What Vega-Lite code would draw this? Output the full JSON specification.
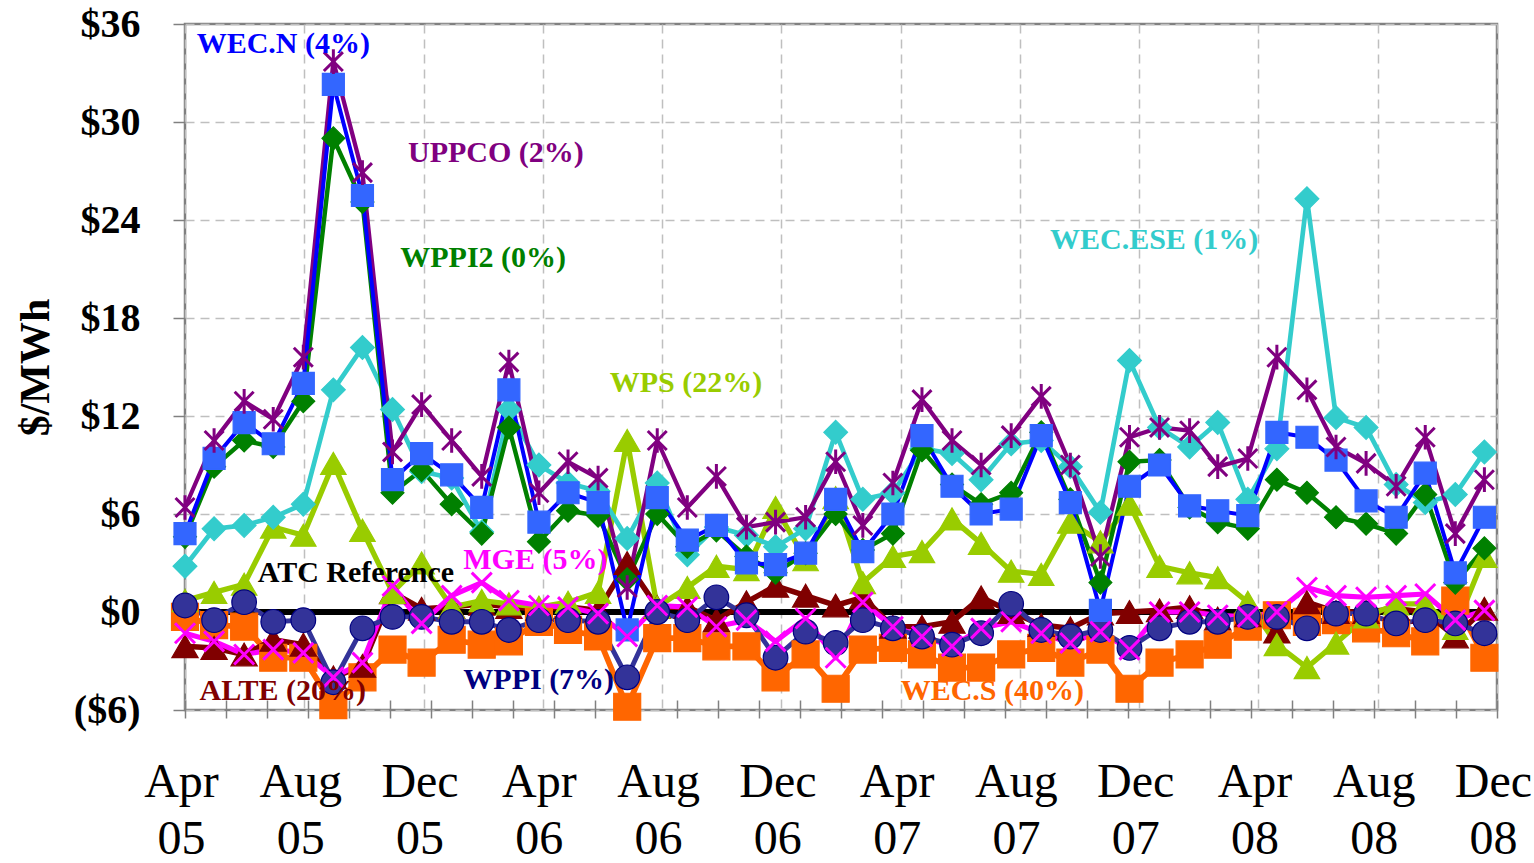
{
  "$schema": "https://vega.github.io/schema/vega-lite/v6.json",
  "width": 1312,
  "height": 686,
  "autosize": {"type": "none"},
  "padding": {"left": 185, "top": 24, "right": 37, "bottom": 153},
  "background": "white",
  "config": {
    "view": {"stroke": "#808080", "strokeWidth": 2.5},
    "font": "Liberation Serif"
  },
  "data": {
    "values": [
      {"month": "2005-04-01", "WECN": 4.8, "UPPCO": 6.4, "WPPI2": 4.6, "WECESE": 2.8, "WPS": 0.7, "MGE": -1.3, "ALTE": -2.1, "WPPI": 0.4, "WECS": -0.3, "ATC": 0},
      {"month": "2005-05-01", "WECN": 9.4, "UPPCO": 10.5, "WPPI2": 8.9, "WECESE": 5.1, "WPS": 1.2, "MGE": -1.8, "ALTE": -2.2, "WPPI": -0.5, "WECS": -0.8, "ATC": 0},
      {"month": "2005-06-01", "WECN": 11.6, "UPPCO": 12.9, "WPPI2": 10.5, "WECESE": 5.3, "WPS": 1.7, "MGE": -2.6, "ALTE": -2.6, "WPPI": 0.6, "WECS": -0.9, "ATC": 0},
      {"month": "2005-07-01", "WECN": 10.3, "UPPCO": 11.8, "WPPI2": 10.1, "WECESE": 5.8, "WPS": 5.2, "MGE": -2.3, "ALTE": -1.7, "WPPI": -0.6, "WECS": -2.8, "ATC": 0},
      {"month": "2005-08-01", "WECN": 14.0, "UPPCO": 15.6, "WPPI2": 12.9, "WECESE": 6.6, "WPS": 4.7, "MGE": -2.5, "ALTE": -2.0, "WPPI": -0.5, "WECS": -2.8, "ATC": 0},
      {"month": "2005-09-01", "WECN": 32.3, "UPPCO": 33.7, "WPPI2": 29.0, "WECESE": 13.6, "WPS": 9.1, "MGE": -4.0, "ALTE": -4.0, "WPPI": -4.3, "WECS": -5.7, "ATC": 0},
      {"month": "2005-10-01", "WECN": 25.5, "UPPCO": 26.9, "WPPI2": 25.1, "WECESE": 16.2, "WPS": 5.0, "MGE": -3.1, "ALTE": -3.3, "WPPI": -1.0, "WECS": -4.0, "ATC": 0},
      {"month": "2005-11-01", "WECN": 8.1, "UPPCO": 9.8, "WPPI2": 7.3, "WECESE": 12.4, "WPS": 1.2, "MGE": 1.6, "ALTE": 1.2, "WPPI": -0.3, "WECS": -2.3, "ATC": 0},
      {"month": "2005-12-01", "WECN": 9.7, "UPPCO": 12.7, "WPPI2": 8.7, "WECESE": 8.6, "WPS": 3.0, "MGE": -0.7, "ALTE": 0.2, "WPPI": -0.3, "WECS": -3.1, "ATC": 0},
      {"month": "2006-01-01", "WECN": 8.4, "UPPCO": 10.5, "WPPI2": 6.6, "WECESE": 8.2, "WPS": 0.3, "MGE": 1.0, "ALTE": 0.3, "WPPI": -0.6, "WECS": -1.7, "ATC": 0},
      {"month": "2006-02-01", "WECN": 6.4, "UPPCO": 8.3, "WPPI2": 4.8, "WECESE": 4.9, "WPS": 0.7, "MGE": 1.8, "ALTE": 0.5, "WPPI": -0.6, "WECS": -2.0, "ATC": 0},
      {"month": "2006-03-01", "WECN": 13.6, "UPPCO": 15.3, "WPPI2": 11.3, "WECESE": 12.4, "WPS": 0.5, "MGE": 0.7, "ALTE": 0.3, "WPPI": -1.1, "WECS": -1.8, "ATC": 0},
      {"month": "2006-04-01", "WECN": 5.5, "UPPCO": 7.3, "WPPI2": 4.3, "WECESE": 9.0, "WPS": 0.3, "MGE": 0.4, "ALTE": 0.2, "WPPI": -0.5, "WECS": -0.6, "ATC": 0},
      {"month": "2006-05-01", "WECN": 7.3, "UPPCO": 9.2, "WPPI2": 6.2, "WECESE": 7.9, "WPS": 0.6, "MGE": 0.3, "ALTE": 0.3, "WPPI": -0.5, "WECS": -1.1, "ATC": 0},
      {"month": "2006-06-01", "WECN": 6.7, "UPPCO": 8.2, "WPPI2": 5.9, "WECESE": 7.4, "WPS": 1.2, "MGE": -0.1, "ALTE": 0.1, "WPPI": -0.6, "WECS": -1.5, "ATC": 0},
      {"month": "2006-07-01", "WECN": -1.1, "UPPCO": 1.5, "WPPI2": 2.0, "WECESE": 4.5, "WPS": 10.5, "MGE": -1.5, "ALTE": 3.0, "WPPI": -4.0, "WECS": -5.8, "ATC": 0},
      {"month": "2006-08-01", "WECN": 7.0, "UPPCO": 10.5, "WPPI2": 6.0, "WECESE": 7.9, "WPS": 0.3, "MGE": 0.4, "ALTE": 0.3, "WPPI": 0.0, "WECS": -1.6, "ATC": 0},
      {"month": "2006-09-01", "WECN": 4.4, "UPPCO": 6.4, "WPPI2": 4.0, "WECESE": 3.5, "WPS": 1.5, "MGE": 0.3, "ALTE": 0.3, "WPPI": -0.5, "WECS": -1.6, "ATC": 0},
      {"month": "2006-10-01", "WECN": 5.3, "UPPCO": 8.3, "WPPI2": 5.0, "WECESE": 5.2, "WPS": 2.8, "MGE": -0.9, "ALTE": -0.5, "WPPI": 0.9, "WECS": -2.1, "ATC": 0},
      {"month": "2006-11-01", "WECN": 3.0, "UPPCO": 5.2, "WPPI2": 3.4, "WECESE": 4.7, "WPS": 2.6, "MGE": -0.5, "ALTE": 0.6, "WPPI": -0.2, "WECS": -2.1, "ATC": 0},
      {"month": "2006-12-01", "WECN": 2.9, "UPPCO": 5.5, "WPPI2": 2.4, "WECESE": 4.0, "WPS": 6.4, "MGE": -1.8, "ALTE": 1.6, "WPPI": -2.8, "WECS": -4.0, "ATC": 0},
      {"month": "2007-01-01", "WECN": 3.6, "UPPCO": 5.8, "WPPI2": 3.6, "WECESE": 5.1, "WPS": 3.2, "MGE": -0.4, "ALTE": 1.0, "WPPI": -1.2, "WECS": -2.6, "ATC": 0},
      {"month": "2007-02-01", "WECN": 6.9, "UPPCO": 9.2, "WPPI2": 6.0, "WECESE": 11.0, "WPS": 7.0, "MGE": -2.8, "ALTE": 0.4, "WPPI": -1.9, "WECS": -4.7, "ATC": 0},
      {"month": "2007-03-01", "WECN": 3.7, "UPPCO": 5.3, "WPPI2": 3.8, "WECESE": 6.9, "WPS": 1.8, "MGE": 0.6, "ALTE": 0.9, "WPPI": -0.5, "WECS": -2.3, "ATC": 0},
      {"month": "2007-04-01", "WECN": 6.0, "UPPCO": 7.9, "WPPI2": 4.8, "WECESE": 7.3, "WPS": 3.4, "MGE": -0.9, "ALTE": -0.9, "WPPI": -1.0, "WECS": -2.2, "ATC": 0},
      {"month": "2007-05-01", "WECN": 10.8, "UPPCO": 13.0, "WPPI2": 9.9, "WECESE": 10.0, "WPS": 3.7, "MGE": -1.5, "ALTE": -0.9, "WPPI": -1.5, "WECS": -2.6, "ATC": 0},
      {"month": "2007-06-01", "WECN": 7.7, "UPPCO": 10.5, "WPPI2": 7.8, "WECESE": 9.7, "WPS": 5.7, "MGE": -2.1, "ALTE": -0.6, "WPPI": -2.0, "WECS": -3.4, "ATC": 0},
      {"month": "2007-07-01", "WECN": 6.0, "UPPCO": 9.0, "WPPI2": 6.6, "WECESE": 8.1, "WPS": 4.2, "MGE": -1.0, "ALTE": 0.9, "WPPI": -1.3, "WECS": -3.4, "ATC": 0},
      {"month": "2007-08-01", "WECN": 6.3, "UPPCO": 10.8, "WPPI2": 7.3, "WECESE": 10.3, "WPS": 2.5, "MGE": -0.6, "ALTE": 0.0, "WPPI": 0.5, "WECS": -2.6, "ATC": 0},
      {"month": "2007-09-01", "WECN": 10.8, "UPPCO": 13.2, "WPPI2": 11.0, "WECESE": 10.5, "WPS": 2.3, "MGE": -1.3, "ALTE": -0.8, "WPPI": -1.1, "WECS": -2.2, "ATC": 0},
      {"month": "2007-10-01", "WECN": 6.7, "UPPCO": 9.0, "WPPI2": 6.9, "WECESE": 8.9, "WPS": 5.5, "MGE": -1.9, "ALTE": -1.0, "WPPI": -1.5, "WECS": -3.1, "ATC": 0},
      {"month": "2007-11-01", "WECN": 0.1, "UPPCO": 3.4, "WPPI2": 1.8, "WECESE": 6.1, "WPS": 4.3, "MGE": -1.2, "ALTE": -0.1, "WPPI": -1.1, "WECS": -2.3, "ATC": 0},
      {"month": "2007-12-01", "WECN": 7.7, "UPPCO": 10.7, "WPPI2": 9.2, "WECESE": 15.4, "WPS": 6.6, "MGE": -2.3, "ALTE": 0.0, "WPPI": -2.2, "WECS": -4.7, "ATC": 0},
      {"month": "2008-01-01", "WECN": 9.0, "UPPCO": 11.3, "WPPI2": 9.3, "WECESE": 11.3, "WPS": 2.8, "MGE": 0.0, "ALTE": 0.1, "WPPI": -1.0, "WECS": -3.1, "ATC": 0},
      {"month": "2008-02-01", "WECN": 6.5, "UPPCO": 11.1, "WPPI2": 6.4, "WECESE": 10.1, "WPS": 2.4, "MGE": 0.0, "ALTE": 0.3, "WPPI": -0.6, "WECS": -2.6, "ATC": 0},
      {"month": "2008-03-01", "WECN": 6.2, "UPPCO": 8.9, "WPPI2": 5.5, "WECESE": 11.6, "WPS": 2.1, "MGE": -0.2, "ALTE": -0.4, "WPPI": -0.6, "WECS": -2.0, "ATC": 0},
      {"month": "2008-04-01", "WECN": 5.9, "UPPCO": 9.4, "WPPI2": 5.1, "WECESE": 6.9, "WPS": 0.6, "MGE": -0.3, "ALTE": -0.2, "WPPI": -0.3, "WECS": -0.9, "ATC": 0},
      {"month": "2008-05-01", "WECN": 11.0, "UPPCO": 15.6, "WPPI2": 8.1, "WECESE": 10.0, "WPS": -2.0, "MGE": 0.0, "ALTE": -1.2, "WPPI": -0.3, "WECS": -0.2, "ATC": 0},
      {"month": "2008-06-01", "WECN": 10.7, "UPPCO": 13.6, "WPPI2": 7.3, "WECESE": 25.3, "WPS": -3.4, "MGE": 1.5, "ALTE": 0.6, "WPPI": -1.0, "WECS": -0.6, "ATC": 0},
      {"month": "2008-07-01", "WECN": 9.3, "UPPCO": 10.1, "WPPI2": 5.8, "WECESE": 11.9, "WPS": -1.9, "MGE": 1.0, "ALTE": 0.0, "WPPI": -0.1, "WECS": -0.5, "ATC": 0},
      {"month": "2008-08-01", "WECN": 6.8, "UPPCO": 9.1, "WPPI2": 5.4, "WECESE": 11.3, "WPS": -0.3, "MGE": 0.9, "ALTE": 0.0, "WPPI": -0.1, "WECS": -1.0, "ATC": 0},
      {"month": "2008-09-01", "WECN": 5.8, "UPPCO": 7.7, "WPPI2": 4.8, "WECESE": 7.8, "WPS": 0.5, "MGE": 1.0, "ALTE": 0.2, "WPPI": -0.7, "WECS": -1.3, "ATC": 0},
      {"month": "2008-10-01", "WECN": 8.5, "UPPCO": 10.7, "WPPI2": 7.2, "WECESE": 6.7, "WPS": 0.5, "MGE": 1.1, "ALTE": 0.0, "WPPI": -0.5, "WECS": -1.8, "ATC": 0},
      {"month": "2008-11-01", "WECN": 2.4, "UPPCO": 4.8, "WPPI2": 1.8, "WECESE": 7.2, "WPS": -1.0, "MGE": -0.5, "ALTE": -1.5, "WPPI": -0.7, "WECS": 0.7, "ATC": 0},
      {"month": "2008-12-01", "WECN": 5.8, "UPPCO": 8.1, "WPPI2": 3.9, "WECESE": 9.8, "WPS": 3.4, "MGE": 0.1, "ALTE": 0.2, "WPPI": -1.3, "WECS": -2.8, "ATC": 0}
    ]
  },
  "resolve": {
    "scale": {"fill": "independent", "shape": "independent", "size": "independent"},
    "axis": {"x": "independent"}
  },
  "layer": [
    {
      "transform": [{"fold": ["ATC", "WECS", "ALTE", "WPS", "MGE", "WPPI", "WECESE", "WPPI2", "UPPCO", "WECN"], "as": ["series", "value"]}],
      "mark": {"type": "line", "strokeJoin": "round"},
      "encoding": {
        "x": {
          "field": "month", "type": "temporal",
          "scale": {"type": "utc", "domain": [{"year": 2005, "month": 4, "date": 1, "utc": true}, {"year": 2008, "month": 12, "date": 14, "utc": true}], "nice": false},
          "axis": {
            "orient": "bottom", "title": null, "domain": false, "ticks": false, "tickSize": 0,
            "values": [
              {"year": 2005, "month": 4, "date": 1, "utc": true},
              {"year": 2005, "month": 8, "date": 2, "utc": true},
              {"year": 2005, "month": 12, "date": 3, "utc": true},
              {"year": 2006, "month": 4, "date": 5, "utc": true},
              {"year": 2006, "month": 8, "date": 6, "utc": true},
              {"year": 2006, "month": 12, "date": 7, "utc": true},
              {"year": 2007, "month": 4, "date": 9, "utc": true},
              {"year": 2007, "month": 8, "date": 10, "utc": true},
              {"year": 2007, "month": 12, "date": 11, "utc": true},
              {"year": 2008, "month": 4, "date": 12, "utc": true},
              {"year": 2008, "month": 8, "date": 13, "utc": true},
              {"year": 2008, "month": 12, "date": 14, "utc": true}
            ],
            "labelExpr": "[utcFormat(datum.value, '%b'), utcFormat(datum.value, '%y')]",
            "labelFont": "Liberation Serif", "labelFontSize": 48, "labelColor": "black",
            "labelLineHeight": 57, "labelPadding": 48, "labelBaseline": "top", "labelOffset": -4,
            "labelFlush": false, "labelOverlap": false, "labelBound": false,
            "grid": true, "gridColor": "#BFBFBF", "gridDash": [9, 6], "gridWidth": 1.5
          }
        },
        "y": {
          "field": "value", "type": "quantitative",
          "scale": {"domain": [-6, 36], "nice": false, "zero": false},
          "axis": {
            "title": "$/MWh", "titleFont": "Liberation Serif", "titleFontSize": 42, "titleFontWeight": "bold", "titleColor": "black", "titlePadding": 16,
            "values": [-6, 0, 6, 12, 18, 24, 30, 36],
            "labelExpr": "datum.value < 0 ? '($' + (-datum.value) + ')' : '$' + datum.value",
            "labelFont": "Liberation Serif", "labelFontSize": 40, "labelFontWeight": "bold", "labelColor": "black",
            "labelPadding": 33, "labelFlush": false, "labelOverlap": false, "labelBound": false,
            "domain": false, "tickSize": 12, "tickColor": "#808080", "tickWidth": 1.5,
            "grid": true, "gridColor": "#BFBFBF", "gridDash": [9, 6], "gridWidth": 1.5,
            "encode": {"labels": {"dx": {"condition": {"test": "datum.value < 0", "value": 13}, "value": 0}}}
          }
        },
        "color": {
          "field": "series", "type": "nominal", "legend": null,
          "scale": {
            "domain": ["ATC", "WECS", "ALTE", "WPS", "MGE", "WPPI", "WECESE", "WPPI2", "UPPCO", "WECN"],
            "range": ["#000000", "#FF6600", "#800000", "#99CC00", "#FF00FF", "#333399", "#33CCCC", "#008000", "#800080", "#0000FF"]
          }
        },
        "strokeWidth": {
          "field": "series", "type": "nominal", "legend": null,
          "scale": {
            "domain": ["ATC", "WECS", "ALTE", "WPS", "MGE", "WPPI", "WECESE", "WPPI2", "UPPCO", "WECN"],
            "range": [6, 4, 4, 4, 4, 4, 4, 4, 4, 5]
          }
        }
      }
    },
    {
      "transform": [{"fold": ["WECS", "ALTE", "WPS", "WPPI", "WECESE", "WPPI2", "WECN"], "as": ["series", "value"]}],
      "mark": {"type": "point", "filled": true, "opacity": 1, "strokeWidth": 1.2},
      "encoding": {
        "x": {"field": "month", "type": "temporal", "axis": null},
        "y": {"field": "value", "type": "quantitative"},
        "shape": {
          "field": "series", "type": "nominal", "legend": null,
          "scale": {
            "domain": ["WECS", "ALTE", "WPS", "WPPI", "WECESE", "WPPI2", "WECN"],
            "range": ["square", "triangle-up", "triangle-up", "circle", "diamond", "diamond", "square"]
          }
        },
        "size": {
          "field": "series", "type": "nominal", "legend": null,
          "scale": {
            "domain": ["WECS", "ALTE", "WPS", "WPPI", "WECESE", "WPPI2", "WECN"],
            "range": [729, 484, 625, 324, 170, 225, 324]
          }
        },
        "fill": {
          "field": "series", "type": "nominal", "legend": null,
          "scale": {
            "domain": ["WECS", "ALTE", "WPS", "WPPI", "WECESE", "WPPI2", "WECN"],
            "range": ["#FF6600", "#800000", "#99CC00", "#333399", "#33CCCC", "#008000", "#3366FF"]
          }
        },
        "stroke": {
          "field": "series", "type": "nominal", "legend": null,
          "scale": {
            "domain": ["WECS", "ALTE", "WPS", "WPPI", "WECESE", "WPPI2", "WECN"],
            "range": ["#FF6600", "#800000", "#99CC00", "#000080", "#33CCCC", "#008000", "#3366FF"]
          }
        }
      }
    },
    {
      "transform": [{"fold": ["MGE", "UPPCO"], "as": ["series", "value"]}],
      "mark": {"type": "point", "filled": false, "opacity": 1, "strokeWidth": 3},
      "encoding": {
        "x": {
          "field": "month", "type": "temporal",
          "axis": {
            "orient": "bottom", "title": null, "labels": false, "grid": false, "domain": false,
            "offset": -10, "tickSize": 18, "tickColor": "#808080", "tickWidth": 1.5,
            "values": [
              {"year": 2005, "month": 4, "date": 1, "utc": true},
              {"year": 2005, "month": 5, "date": 13, "utc": true},
              {"year": 2005, "month": 6, "date": 25, "utc": true},
              {"year": 2005, "month": 8, "date": 6, "utc": true},
              {"year": 2005, "month": 9, "date": 17, "utc": true},
              {"year": 2005, "month": 10, "date": 29, "utc": true},
              {"year": 2005, "month": 12, "date": 11, "utc": true},
              {"year": 2006, "month": 1, "date": 22, "utc": true},
              {"year": 2006, "month": 3, "date": 5, "utc": true},
              {"year": 2006, "month": 4, "date": 17, "utc": true},
              {"year": 2006, "month": 5, "date": 29, "utc": true},
              {"year": 2006, "month": 7, "date": 10, "utc": true},
              {"year": 2006, "month": 8, "date": 21, "utc": true},
              {"year": 2006, "month": 10, "date": 3, "utc": true},
              {"year": 2006, "month": 11, "date": 14, "utc": true},
              {"year": 2006, "month": 12, "date": 26, "utc": true},
              {"year": 2007, "month": 2, "date": 6, "utc": true},
              {"year": 2007, "month": 3, "date": 21, "utc": true},
              {"year": 2007, "month": 5, "date": 2, "utc": true},
              {"year": 2007, "month": 6, "date": 13, "utc": true},
              {"year": 2007, "month": 7, "date": 26, "utc": true},
              {"year": 2007, "month": 9, "date": 6, "utc": true},
              {"year": 2007, "month": 10, "date": 18, "utc": true},
              {"year": 2007, "month": 11, "date": 29, "utc": true},
              {"year": 2008, "month": 1, "date": 11, "utc": true},
              {"year": 2008, "month": 2, "date": 22, "utc": true},
              {"year": 2008, "month": 4, "date": 4, "utc": true},
              {"year": 2008, "month": 5, "date": 17, "utc": true},
              {"year": 2008, "month": 6, "date": 28, "utc": true},
              {"year": 2008, "month": 8, "date": 9, "utc": true},
              {"year": 2008, "month": 9, "date": 20, "utc": true},
              {"year": 2008, "month": 11, "date": 2, "utc": true},
              {"year": 2008, "month": 12, "date": 14, "utc": true}
            ]
          }
        },
        "y": {"field": "value", "type": "quantitative"},
        "color": {"field": "series", "type": "nominal", "legend": null},
        "shape": {
          "field": "series", "type": "nominal", "legend": null,
          "scale": {
            "domain": ["MGE", "UPPCO"],
            "range": ["M-1,-1L1,1M-1,1L1,-1", "M-1,-1L1,1M-1,1L1,-1M0,-1.3L0,1.3"]
          }
        },
        "size": {
          "field": "series", "type": "nominal", "legend": null,
          "scale": {"domain": ["MGE", "UPPCO"], "range": [400, 360]}
        }
      }
    },
    {
      "data": {
        "values": [
          {"label": "WEC.N (4%)", "series": "WECN", "month": "2005-04-13", "value": 34.8},
          {"label": "UPPCO (2%)", "series": "UPPCO", "month": "2005-11-17", "value": 28.1},
          {"label": "WPPI2 (0%)", "series": "WPPI2", "month": "2005-11-09", "value": 21.7},
          {"label": "WEC.ESE (1%)", "series": "WECESE", "month": "2007-09-10", "value": 22.8},
          {"label": "WPS (22%)", "series": "WPS", "month": "2006-06-13", "value": 14.0},
          {"label": "ATC Reference", "series": "ATC", "month": "2005-06-15", "value": 2.4},
          {"label": "MGE (5%)", "series": "MGE", "month": "2006-01-13", "value": 3.2},
          {"label": "ALTE (20%)", "series": "ALTE", "month": "2005-04-16", "value": -4.84},
          {"label": "WPPI (7%)", "series": "WPPI", "month": "2006-01-13", "value": -4.16},
          {"label": "WEC.S (40%)", "series": "WECS", "month": "2007-04-09", "value": -4.84}
        ]
      },
      "mark": {"type": "text", "font": "Liberation Serif", "fontWeight": "bold", "fontSize": 30, "align": "left", "baseline": "middle"},
      "encoding": {
        "x": {"field": "month", "type": "temporal", "axis": null},
        "y": {"field": "value", "type": "quantitative"},
        "text": {"field": "label", "type": "nominal"},
        "fill": {
          "field": "series", "type": "nominal", "legend": null,
          "scale": {
            "domain": ["WECN", "UPPCO", "WPPI2", "WECESE", "WPS", "ATC", "MGE", "ALTE", "WPPI", "WECS"],
            "range": ["#0000FF", "#800080", "#008000", "#33CCCC", "#99CC00", "#000000", "#FF00FF", "#800000", "#000080", "#FF6600"]
          }
        }
      }
    }
  ]
}
